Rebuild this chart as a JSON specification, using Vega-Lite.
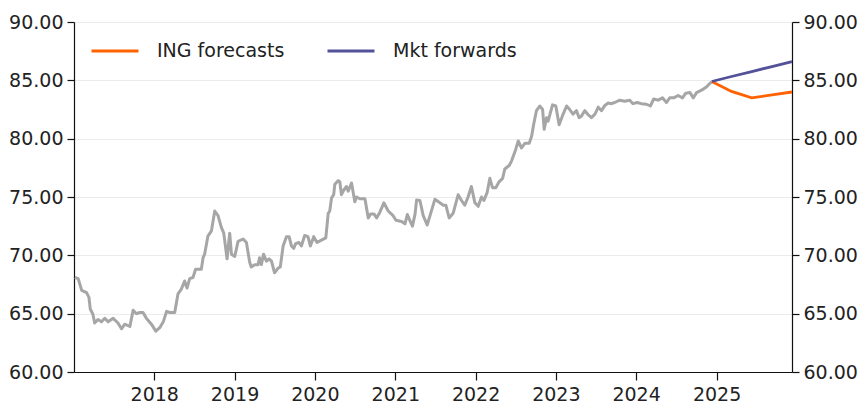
{
  "$schema": "https://vega.github.io/schema/vega-lite/v6.json",
  "width": 718,
  "height": 350,
  "autosize": {"type": "none"},
  "padding": {"left": 74, "top": 22, "right": 70, "bottom": 31},
  "background": "white",
  "config": {
    "view": {"stroke": null},
    "font": "DejaVu Sans",
    "axis": {"labelFont": "DejaVu Sans", "labelFontSize": 19, "labelColor": "#222222", "domainColor": "#111111", "tickColor": "#111111", "domainWidth": 1.2, "tickWidth": 1.2, "gridColor": "#ebebeb", "gridWidth": 1}
  },
  "datasets": {
    "hist": [
      {"d":"2017-01-05","v":68.1},{"d":"2017-01-20","v":68.0},{"d":"2017-02-05","v":67.0},{"d":"2017-02-27","v":66.8},{"d":"2017-03-10","v":66.4},{"d":"2017-03-16","v":65.4},{"d":"2017-03-28","v":64.95},{"d":"2017-04-05","v":64.2},{"d":"2017-04-20","v":64.5},{"d":"2017-05-06","v":64.3},{"d":"2017-05-21","v":64.6},{"d":"2017-06-05","v":64.3},{"d":"2017-06-28","v":64.6},{"d":"2017-07-20","v":64.2},{"d":"2017-08-05","v":63.7},{"d":"2017-08-20","v":64.1},{"d":"2017-09-12","v":63.9},{"d":"2017-09-27","v":65.3},{"d":"2017-10-12","v":65.0},{"d":"2017-10-27","v":65.1},{"d":"2017-11-11","v":65.1},{"d":"2017-11-26","v":64.6},{"d":"2017-12-19","v":64.1},{"d":"2018-01-08","v":63.5},{"d":"2018-01-26","v":63.8},{"d":"2018-02-11","v":64.3},{"d":"2018-02-26","v":65.2},{"d":"2018-03-13","v":65.1},{"d":"2018-04-04","v":65.1},{"d":"2018-04-19","v":66.7},{"d":"2018-05-04","v":67.1},{"d":"2018-05-19","v":67.8},{"d":"2018-05-30","v":67.2},{"d":"2018-06-11","v":68.0},{"d":"2018-06-26","v":68.1},{"d":"2018-07-08","v":68.8},{"d":"2018-08-03","v":68.8},{"d":"2018-08-11","v":69.8},{"d":"2018-08-18","v":70.1},{"d":"2018-09-02","v":71.65},{"d":"2018-09-18","v":72.1},{"d":"2018-10-03","v":73.8},{"d":"2018-10-18","v":73.4},{"d":"2018-11-02","v":72.4},{"d":"2018-11-13","v":71.9},{"d":"2018-11-28","v":69.7},{"d":"2018-12-10","v":71.9},{"d":"2018-12-18","v":70.1},{"d":"2019-01-02","v":69.9},{"d":"2019-01-17","v":71.2},{"d":"2019-02-09","v":71.4},{"d":"2019-02-24","v":71.1},{"d":"2019-03-11","v":69.4},
      {"d":"2019-03-18","v":69.0},{"d":"2019-04-03","v":69.2},{"d":"2019-04-18","v":69.2},{"d":"2019-04-25","v":69.8},{"d":"2019-05-03","v":69.2},{"d":"2019-05-13","v":70.1},{"d":"2019-05-26","v":69.5},{"d":"2019-06-07","v":69.7},{"d":"2019-06-18","v":69.5},{"d":"2019-07-02","v":68.5},{"d":"2019-07-18","v":68.9},{"d":"2019-07-28","v":69.0},{"d":"2019-08-10","v":70.8},{"d":"2019-08-25","v":71.6},{"d":"2019-09-06","v":71.6},{"d":"2019-09-17","v":70.8},{"d":"2019-09-27","v":70.6},{"d":"2019-10-06","v":71.0},{"d":"2019-10-21","v":71.1},{"d":"2019-11-01","v":70.8},{"d":"2019-11-16","v":71.7},{"d":"2019-12-01","v":71.6},{"d":"2019-12-12","v":70.8},{"d":"2019-12-27","v":71.6},{"d":"2020-01-11","v":71.1},{"d":"2020-01-31","v":71.3},{"d":"2020-02-20","v":71.5},{"d":"2020-03-02","v":73.6},{"d":"2020-03-09","v":73.8},{"d":"2020-03-17","v":74.9},{"d":"2020-03-27","v":75.2},{"d":"2020-04-01","v":76.1},{"d":"2020-04-16","v":76.4},{"d":"2020-04-24","v":76.3},{"d":"2020-05-01","v":75.2},{"d":"2020-05-12","v":75.6},{"d":"2020-05-24","v":75.9},{"d":"2020-06-01","v":75.5},{"d":"2020-06-16","v":76.2},{"d":"2020-07-01","v":74.6},{"d":"2020-07-09","v":75.0},{"d":"2020-07-24","v":74.85},{"d":"2020-08-16","v":74.85},{"d":"2020-08-31","v":73.2},{"d":"2020-09-11","v":73.55},{"d":"2020-09-26","v":73.55},{"d":"2020-10-08","v":73.2},{"d":"2020-10-23","v":73.7},{"d":"2020-11-10","v":74.5},{"d":"2020-11-30","v":73.8},{"d":"2020-12-22","v":73.4},{"d":"2021-01-04","v":73.0},{"d":"2021-01-30","v":72.9},{"d":"2021-02-14","v":72.7},{"d":"2021-02-25","v":73.5},{"d":"2021-03-08","v":73.0},{"d":"2021-03-20","v":72.5},{"d":"2021-04-01","v":73.55},{"d":"2021-04-08","v":74.75},{"d":"2021-04-23","v":74.7},
      {"d":"2021-05-08","v":73.4},{"d":"2021-05-26","v":72.6},{"d":"2021-06-11","v":73.6},{"d":"2021-06-30","v":74.8},{"d":"2021-07-23","v":74.5},{"d":"2021-08-07","v":74.3},{"d":"2021-08-19","v":74.3},{"d":"2021-09-03","v":73.2},{"d":"2021-09-21","v":73.6},{"d":"2021-10-14","v":75.2},{"d":"2021-10-29","v":74.7},{"d":"2021-11-13","v":74.3},{"d":"2021-11-28","v":75.0},{"d":"2021-12-13","v":75.9},{"d":"2021-12-29","v":74.5},{"d":"2022-01-13","v":74.2},{"d":"2022-01-28","v":75.0},{"d":"2022-02-08","v":74.7},{"d":"2022-02-23","v":75.4},{"d":"2022-03-07","v":76.6},{"d":"2022-03-19","v":75.8},{"d":"2022-04-03","v":75.8},{"d":"2022-04-18","v":76.3},{"d":"2022-05-04","v":76.6},{"d":"2022-05-14","v":77.4},{"d":"2022-06-03","v":77.7},{"d":"2022-06-14","v":78.1},{"d":"2022-07-03","v":79.1},{"d":"2022-07-14","v":79.8},{"d":"2022-07-29","v":79.2},{"d":"2022-08-13","v":79.6},{"d":"2022-09-02","v":79.6},{"d":"2022-09-13","v":80.2},{"d":"2022-09-23","v":81.3},{"d":"2022-10-05","v":82.4},{"d":"2022-10-20","v":82.8},{"d":"2022-11-02","v":82.5},{"d":"2022-11-09","v":80.8},{"d":"2022-11-20","v":81.8},{"d":"2022-11-27","v":81.5},{"d":"2022-12-17","v":82.9},{"d":"2023-01-01","v":82.8},{"d":"2023-01-16","v":81.2},{"d":"2023-01-31","v":81.95},{"d":"2023-02-19","v":82.8},{"d":"2023-03-05","v":82.5},
      {"d":"2023-03-20","v":82.1},{"d":"2023-04-05","v":82.4},{"d":"2023-04-17","v":81.8},{"d":"2023-04-28","v":81.95},{"d":"2023-05-13","v":82.4},{"d":"2023-05-28","v":82.05},{"d":"2023-06-12","v":81.8},{"d":"2023-06-28","v":82.1},{"d":"2023-07-13","v":82.7},{"d":"2023-07-28","v":82.4},{"d":"2023-08-12","v":82.85},{"d":"2023-08-27","v":83.05},{"d":"2023-09-11","v":83.0},{"d":"2023-09-26","v":83.1},{"d":"2023-10-19","v":83.3},{"d":"2023-11-10","v":83.2},{"d":"2023-12-03","v":83.3},{"d":"2023-12-18","v":83.0},{"d":"2024-01-06","v":83.1},{"d":"2024-01-25","v":83.0},{"d":"2024-02-17","v":82.95},{"d":"2024-03-06","v":82.8},{"d":"2024-03-21","v":83.4},{"d":"2024-04-10","v":83.3},{"d":"2024-04-30","v":83.5},{"d":"2024-05-18","v":83.1},{"d":"2024-06-02","v":83.5},{"d":"2024-06-20","v":83.5},{"d":"2024-07-10","v":83.7},{"d":"2024-07-30","v":83.5},{"d":"2024-08-14","v":83.9},{"d":"2024-09-02","v":83.95},{"d":"2024-09-17","v":83.5},{"d":"2024-10-02","v":83.95},{"d":"2024-10-18","v":84.1},{"d":"2024-11-02","v":84.25},{"d":"2024-11-17","v":84.45},{"d":"2024-12-02","v":84.75},{"d":"2024-12-10","v":84.85}
    ],
    "fc": [
      {"d":"2024-12-10","v":84.9,"s":"ING forecasts"},{"d":"2025-03-10","v":84.05,"s":"ING forecasts"},{"d":"2025-06-10","v":83.5,"s":"ING forecasts"},{"d":"2025-09-10","v":83.75,"s":"ING forecasts"},{"d":"2025-12-10","v":84.0,"s":"ING forecasts"},
      {"d":"2024-12-10","v":84.9,"s":"Mkt forwards"},{"d":"2025-03-10","v":85.33,"s":"Mkt forwards"},{"d":"2025-06-10","v":85.75,"s":"Mkt forwards"},{"d":"2025-09-10","v":86.18,"s":"Mkt forwards"},{"d":"2025-12-10","v":86.6,"s":"Mkt forwards"}
    ]
  },
  "layer": [
    {
      "data": {"name": "hist"},
      "mark": {"type": "line", "color": "#a6a6a6", "strokeWidth": 3, "strokeJoin": "round"},
      "encoding": {
        "x": {"field": "d", "type": "temporal", "title": null,
          "scale": {"type": "utc", "domain": [{"year": 2017, "month": 1, "date": 1, "utc": true}, {"year": 2025, "month": 12, "date": 10, "utc": true}]},
          "axis": {"format": "%Y", "grid": false, "tickSize": 8, "labelPadding": 5, "domain": true,
            "values": [{"year": 2018, "month": 1, "date": 1, "utc": true}, {"year": 2019, "month": 1, "date": 1, "utc": true}, {"year": 2020, "month": 1, "date": 1, "utc": true}, {"year": 2021, "month": 1, "date": 1, "utc": true}, {"year": 2022, "month": 1, "date": 1, "utc": true}, {"year": 2023, "month": 1, "date": 1, "utc": true}, {"year": 2024, "month": 1, "date": 1, "utc": true}, {"year": 2025, "month": 1, "date": 1, "utc": true}]}},
        "y": {"field": "v", "type": "quantitative", "title": null,
          "scale": {"domain": [60, 90], "nice": false, "zero": false},
          "axis": {"orient": "left", "values": [60, 65, 70, 75, 80, 85, 90], "format": ".2f", "tickSize": 7, "labelPadding": 4, "grid": true}}
      }
    },
    {
      "data": {"name": "fc"},
      "mark": {"type": "line", "strokeWidth": 2.8},
      "encoding": {
        "x": {"field": "d", "type": "temporal"},
        "y": {"field": "v", "type": "quantitative", "title": null,
          "scale": {"domain": [60, 90], "nice": false, "zero": false},
          "axis": {"orient": "right", "values": [60, 65, 70, 75, 80, 85, 90], "format": ".2f", "tickSize": 7, "labelPadding": 4, "grid": false}},
        "color": {"field": "s", "type": "nominal",
          "scale": {"domain": ["ING forecasts", "Mkt forwards"], "range": ["#ff6200", "#525199"]},
          "legend": {"title": null, "orient": "none", "direction": "horizontal", "legendX": 16, "legendY": 4,
            "symbolType": "stroke", "symbolSize": 2209, "symbolStrokeWidth": 2.8, "labelFontSize": 19, "labelFont": "DejaVu Sans", "labelColor": "#222222", "labelOffset": 17, "columnPadding": 36, "padding": 0}}
      }
    }
  ],
  "resolve": {"scale": {"y": "independent"}}
}
